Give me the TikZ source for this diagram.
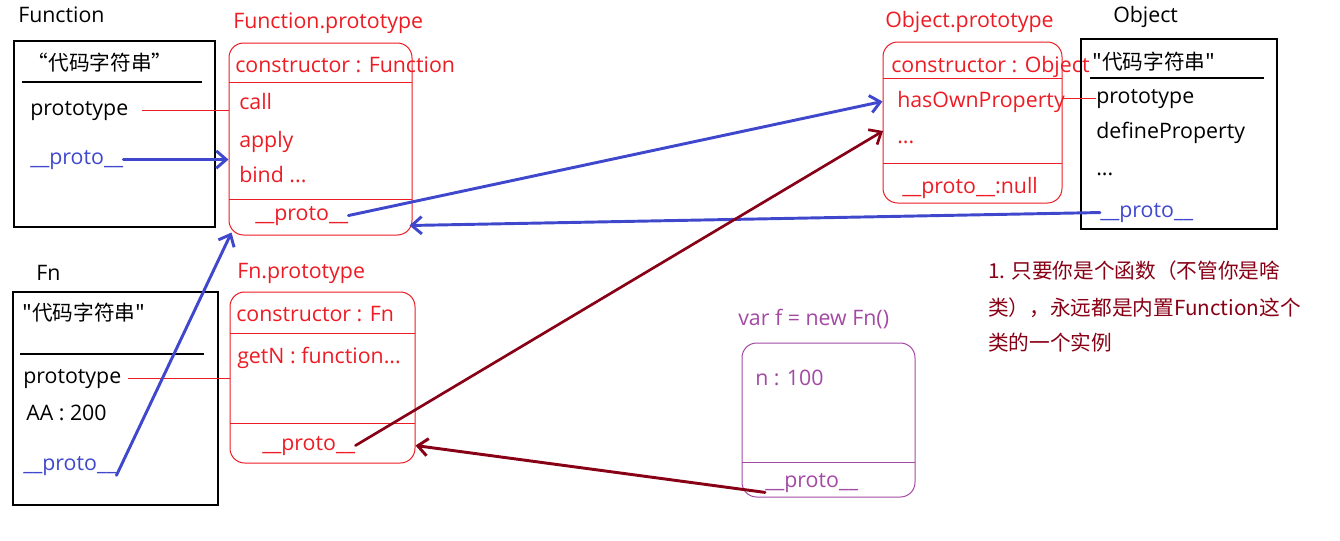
\documentclass[tikz,border=0pt]{standalone}
\usepackage{fontspec}
\setmainfont{Open Sans}
\newfontfamily\cjk{Noto Sans CJK SC}
\usetikzlibrary{arrows.meta,fit}
\definecolor{pred}{HTML}{ED1C24}
\definecolor{pblue}{HTML}{3F48CC}
\definecolor{pwine}{HTML}{880015}
\definecolor{ppurple}{HTML}{A349A4}
\tikzset{
  % --- texts ------------------------------------------------------------------
  txt/.style={anchor=base west,inner sep=0pt,font=\fontsize{16}{19}\selectfont},
  cn/.style={txt,font=\cjk\fontsize{15.5}{19}\selectfont},
  % --- boxes ------------------------------------------------------------------
  plainbox/.style={draw=black,line width=0.8pt,inner sep=0pt},
  protobox/.style={draw=#1,line width=0.75pt,rounded corners=11pt,inner sep=0pt},
  % --- links ------------------------------------------------------------------
  pline/.style={pred,line width=0.75pt},
  chain/.style={-{Straight Barb[length=7.5pt,width=13pt]},line width=2.2pt,
                line cap=round},
}
\begin{document}
\begin{tikzpicture}[x=0.75pt,y=-0.75pt]
  \useasboundingbox (0,0) rectangle (1340,540);

  % Function
  \node[txt] (funlab) at (18,22) {Function};
  \node[plainbox,fit={(14,41) (215,227)}] (funbox) {};
  \node[cn,anchor=center] (funcode) at (100,63) {“代码字符串”};
  \draw[line width=0.8pt] (22,82) -- (202,82);
  \node[txt] (funproto) at (30,115) {prototype};
  \node[txt,text=pblue] (fundund) at (30,164) {\_\_proto\_\_};

  % Function.prototype
  \node[txt,text=pred] (fplab) at (233,28) {Function.prototype};
  \node[protobox=pred,fit={(229,43) (412,235)}] (fpbox) {};
  \draw[pline] (229,82) -- (412,82);
  \draw[pline] (229,199) -- (412,199);
  \node[txt,text=pred] (fpcons) at (235,72) {constructor : Function};
  \node[txt,text=pred] (fpcall) at (239,109) {call};
  \node[txt,text=pred] (fpapply) at (239,147) {apply};
  \node[txt,text=pred] (fpbind) at (239,182) {bind ...};
  \node[txt,text=pred] (fpdund) at (255,220) {\_\_proto\_\_};

  % Object.prototype
  \node[txt,text=pred] (oplab) at (885,27) {Object.prototype};
  \node[protobox=pred,fit={(883,42) (1062,203)}] (opbox) {};
  \draw[pline] (883,78) -- (1062,78);
  \draw[pline] (883,163) -- (1062,163);
  \node[txt,text=pred] (opcons) at (891,72) {constructor : Object};
  \node[txt,text=pred] (ophas) at (897,107) {hasOwnProperty};
  \node[txt,text=pred] (opdots) at (897,143) {...};
  \node[txt,text=pred] (opdund) at (902,193) {\_\_proto\_\_:null};

  % Object
  \node[txt] (oblab) at (1113,22) {Object};
  \node[plainbox,fit={(1081,39) (1277,229)}] (obbox) {};
  \node[cn,anchor=west] (obcode) at (1092,62) {"代码字符串"};
  \draw[line width=0.8pt] (1090,78) -- (1264,78);
  \node[txt] (obproto) at (1096,103) {prototype};
  \node[txt] (obdefine) at (1096,138) {defineProperty};
  \node[txt] (obdots) at (1096,175) {...};
  \node[txt,text=pblue] (obdund) at (1100,217) {\_\_proto\_\_};

  % Fn
  \node[txt] (fnlab) at (36,280) {Fn};
  \node[plainbox,fit={(13,292) (218,505)}] (fnbox) {};
  \node[cn,anchor=west] (fncode) at (22,313) {"代码字符串"};
  \draw[line width=0.8pt] (20,354) -- (204,354);
  \node[txt] (fnproto) at (23,383) {prototype};
  \node[txt] (fnaa) at (26,420) {AA : 200};
  \node[txt,text=pblue] (fndund) at (23,470) {\_\_proto\_\_};

  % Fn.prototype
  \node[txt,text=pred] (fnplab) at (237,278) {Fn.prototype};
  \node[protobox=pred,fit={(230,292) (415,463)}] (fnpbox) {};
  \draw[pline] (230,333) -- (415,333);
  \draw[pline] (230,423) -- (415,423);
  \node[txt,text=pred] (fnpcons) at (236,321) {constructor : Fn};
  \node[txt,text=pred] (fnpgetn) at (237,363) {getN : function...};
  \node[txt,text=pred] (fnpdund) at (262,450) {\_\_proto\_\_};

  % f
  \node[txt,text=ppurple] (flab) at (738,325) {var f = new Fn()};
  \node[protobox=ppurple,fit={(742,343) (915,497)}] (fbox) {};
  \draw[ppurple,line width=0.75pt] (742,462) -- (915,462);
  \node[txt,text=ppurple] (fn100) at (755,385) {n : 100};
  \node[txt,text=ppurple] (fdund) at (765,487) {\_\_proto\_\_};

  % note
  \node[cn,text=pwine] (note1) at (988,278) {1. 只要你是个函数（不管你是啥};
  \node[cn,text=pwine] (note2) at (988,315) {类），永远都是内置Function这个};
  \node[cn,text=pwine] (note3) at (988,350) {类的一个实例};

  % prototype links
  \draw[pline] ([xshift=10pt]funproto.east) -- (funproto.east -| fpbox.west);
  \draw[pline] ([xshift=5pt]fnproto.east) -- (fnproto.east -| fnpbox.west);
  \draw[pline] (obproto.west -| opbox.east) -- (obproto.west);

  % __proto__ chains
  \coordinate (opin) at (883,131);
  \coordinate (fpin) at ([shift={(-3,-10)}]fpbox.south east);
  \draw[chain,pblue] (fundund.east) -- (fundund.east -| fpbox.west);
  \draw[chain,pblue] (fndund.south east) -- ([shift={(3,-3)}]fpbox.south west);
  \draw[chain,pblue] (fpdund.east) -- (ophas.west -| opbox.west);
  \draw[chain,pblue] (obdund.west) -- (fpin);
  \draw[chain,pwine,line width=2pt] (fnpdund.east) -- (opin);
  \draw[chain,pwine] (fdund.south west) -- (fnpdund.east -| fnpbox.east);
\end{tikzpicture}
\end{document}
